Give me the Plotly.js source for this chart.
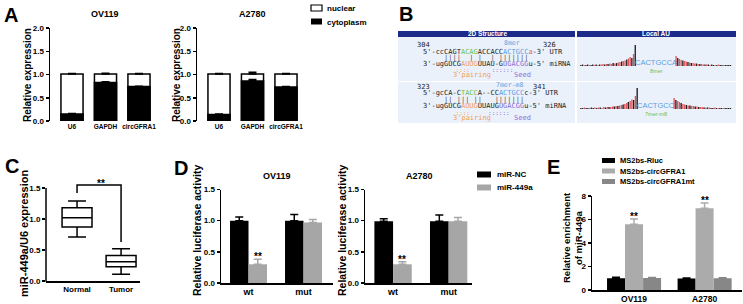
<!DOCTYPE html>
<html><head><meta charset="utf-8">
<script src="https://cdn.plot.ly/plotly-3.0.1.min.js"></script>
<style>html,body{margin:0;padding:0;background:#fff}#chart{width:743px;height:304px}</style>
</head><body><div id="chart"></div>
<script>
// ---------------- DATA ----------------
// Panel A: subcellular fractionation
const aCategories = ['U6', 'GAPDH', 'circGFRA1'];
const aOV119Cytoplasm = [0.15, 0.83, 0.74];
const aOV119Nuclear = [0.86, 0.18, 0.27];
const aOV119CytoplasmErr = [0.01, 0.015, 0.01];
const aOV119TotalErr = [0.01, 0.015, 0.01];
const aA2780Cytoplasm = [0.14, 0.86, 0.73];
const aA2780Nuclear = [0.87, 0.15, 0.28];
const aA2780CytoplasmErr = [0.01, 0.035, 0.01];
const aA2780TotalErr = [0.01, 0.04, 0.01];

// Panel B: binding-site text
const bSiteStarts = ['304', '323'];
const bSiteEnds = ['326', '341'];
const bSiteTypes = ['8mer', '7mer-m8'];
const bSiteMotifs = ['CACTGCCA', 'CACTGCC'];
// Local AU score bars (far -> seed on left, seed -> far on right)
const auRow1Left = [1,1.5,1,1,1.5,1,1,1.5,1,1.5,1,1.5,1.5,2,1.5,2,2,2.5,2,3,2.5,3,3.5,4,4.5,5,5.5,6.5,7.5,9,8,12,21];
const auRow1Right = [10,8,7,6,5.5,5,4.5,4,3.5,3,3,2.5,2.5,2,2,2,1.5,1.5,1.5,1.5,1,1.5,1,1,1,1.5,1,1,1,1,1,1,1];
const auRow2Left = [1,1,1.5,1,1,1,1.5,1,1.5,1,1.5,1.5,1,2,1.5,2,2,2,2.5,2.5,3,3,3.5,4,4.5,5,6,7,8,9.5,9,13,21];
const auRow2Right = [11,9,8,7,6,5,4.5,4,3.5,3.5,3,3,2.5,2.5,2,2,2,1.5,1.5,1.5,1.5,1,1,1.5,1,1,1,1,1,1,1,1,1];

// Panel C: box plot statistics
const cGroups = ['Normal', 'Tumor'];
const cLowerFence = [0.71, 0.11];
const cQ1 = [0.87, 0.23];
const cMedian = [1.02, 0.31];
const cQ3 = [1.18, 0.41];
const cUpperFence = [1.29, 0.52];
const cBracketX = ['Normal', 'Normal', 'Tumor', 'Tumor'];
const cBracketY = [1.42, 1.55, 1.55, 0.63];

// Panel D: luciferase
const dCategories = ['wt', 'mut'];
const dOV119NC = [1.0, 1.0];
const dOV119NCErr = [0.06, 0.1];
const dOV119Mir = [0.30, 0.97];
const dOV119MirErr = [0.08, 0.05];
const dA2780NC = [0.99, 0.99];
const dA2780NCErr = [0.04, 0.1];
const dA2780Mir = [0.30, 0.99];
const dA2780MirErr = [0.04, 0.06];

// Panel E: MS2 pull-down
const eCategories = ['OV119', 'A2780'];
const eRluc = [1.0, 0.98];
const eRlucErr = [0.08, 0.04];
const eCirc = [5.6, 6.95];
const eCircErr = [0.45, 0.45];
const eCircMt = [1.02, 1.0];
const eCircMtErr = [0.05, 0.05];

// ---------------- HELPERS ----------------
const W = 743, H = 304;
const px = v => v / W;
const py = v => 1 - v / H;
const FONT = 'Liberation Sans, Arial, sans-serif';
const MONO = 'DejaVu Sans Mono, Liberation Mono, monospace';
const GRAY = '#a6a6a6', GRAY_LIGHT = '#ababab', GRAY_DARK = '#878787';
const NAVY = '#1c2a8a', CELL = '#ebf1fb';
const C_GREEN = '#6cc04a', C_BLUE = '#5b9be0', C_ORANGE = '#f0a050', C_PURPLE = '#8a6fd6', C_RED = '#e0585f';

function fnt(size, color, bold) {
  return {family: FONT, size: size, color: color || '#000', weight: bold === false ? 'normal' : 'bold'};
}
function xAxis(l, r, range, size, showline, anchor) {
  return {domain: [px(l), px(r)], range: range, type: 'category', anchor: anchor, showline: showline,
    linecolor: '#000', linewidth: 1.5, ticks: '', showgrid: false, zeroline: false, fixedrange: true,
    tickfont: fnt(size)};
}
function yAxis(bot, top, range, tickvals, fmt, anchor, showline) {
  return {domain: [py(bot), py(top)], range: range, anchor: anchor, showline: showline !== false,
    linecolor: '#000', linewidth: 1.5, ticks: 'outside', ticklen: 3, tickwidth: 1.5, tickcolor: '#000',
    tickvals: tickvals, tickformat: fmt, showgrid: false, zeroline: false, fixedrange: true, tickfont: fnt(8)};
}
function errUp(arr, color, w) {
  return {type: 'data', symmetric: false, array: arr, arrayminus: arr.map(() => 0), color: color, thickness: 1.5, width: w};
}
function hidden(domain, range, anchor) {
  return {domain: domain, range: range, visible: false, fixedrange: true, anchor: anchor};
}
const nb = s => s.replace(/ /g, '\u00a0');
const col = (c, s) => `<span style="color:${c}">${s}</span>`;

// ---------------- TRACES ----------------
const traces = [];

function stackedPanel(cyto, nuc, cytoErr, totErr, xa, ya) {
  const total = cyto.map((c, i) => c + nuc[i]);
  traces.push({type: 'bar', x: aCategories, y: total, xaxis: xa, yaxis: ya, offset: -0.33, width: 0.66,
    marker: {color: '#fff', line: {color: '#000', width: 1.5}}, error_y: errUp(totErr, '#000', 4)});
  traces.push({type: 'bar', x: aCategories, y: cyto, xaxis: xa, yaxis: ya, offset: -0.33, width: 0.66,
    marker: {color: '#000', line: {color: '#000', width: 1.5}}, error_y: errUp(cytoErr, '#000', 4)});
}
stackedPanel(aOV119Cytoplasm, aOV119Nuclear, aOV119CytoplasmErr, aOV119TotalErr, 'x', 'y');
stackedPanel(aA2780Cytoplasm, aA2780Nuclear, aA2780CytoplasmErr, aA2780TotalErr, 'x2', 'y2');

// C
traces.push({type: 'box', x: cGroups, q1: cQ1, median: cMedian, q3: cQ3, lowerfence: cLowerFence,
  upperfence: cUpperFence, xaxis: 'x3', yaxis: 'y3', width: 0.68, whiskerwidth: 0.6, fillcolor: '#fff',
  line: {color: '#000', width: 1.5}, boxpoints: false});
traces.push({type: 'scatter', mode: 'lines', x: cBracketX, y: cBracketY, xaxis: 'x3', yaxis: 'y3',
  line: {color: '#000', width: 1.5}, cliponaxis: false});

// D
function lucPanel(nc, ncErr, mir, mirErr, xa, ya) {
  traces.push({type: 'bar', x: dCategories, y: nc, xaxis: xa, yaxis: ya, offset: -0.336, width: 0.336,
    marker: {color: '#000'}, error_y: errUp(ncErr, '#000', 4)});
  traces.push({type: 'bar', x: dCategories, y: mir, xaxis: xa, yaxis: ya, offset: 0, width: 0.336,
    marker: {color: GRAY}, error_y: errUp(mirErr, GRAY, 4)});
}
lucPanel(dOV119NC, dOV119NCErr, dOV119Mir, dOV119MirErr, 'x4', 'y4');
lucPanel(dA2780NC, dA2780NCErr, dA2780Mir, dA2780MirErr, 'x5', 'y5');

// E
[[eRluc, eRlucErr, '#000', -0.383], [eCirc, eCircErr, GRAY_LIGHT, -0.128], [eCircMt, eCircMtErr, GRAY_DARK, 0.128]]
  .forEach(s => traces.push({type: 'bar', x: eCategories, y: s[0], xaxis: 'x6', yaxis: 'y6', offset: s[3], width: 0.255,
    marker: {color: s[2]}, error_y: errUp(s[1], s[2], 4)}));

// B sparklines
const patL = 'kkrkkrkkrkrkrrkrkrrkrkrrkrrkrrkrk';
const patR = 'rkrrkrrkrkrrkrkrrkrkrkkrkrkkrkkkk';
function spark(left, right, rightStart, xa, ya) {
  const xs = left.map((_, i) => i).concat(right.map((_, i) => i + rightStart));
  const ys = left.concat(right);
  const cols = left.map((_, i) => patL[i % patL.length] === 'k' ? '#222' : C_RED)
    .concat(right.map((_, i) => patR[i % patR.length] === 'k' ? '#222' : C_RED));
  traces.push({type: 'bar', x: xs, y: ys, xaxis: xa, yaxis: ya, width: 0.8, marker: {color: cols}});
}
spark(auRow1Left, auRow1Right, 56, 'x7', 'y7');
spark(auRow2Left, auRow2Right, 53, 'x8', 'y8');

// ---------------- LAYOUT ----------------
const shapes = [];
const annotations = [];
function rect(x0, y0, x1, y1, fill, lineColor, lw) {
  shapes.push({type: 'rect', xref: 'paper', yref: 'paper', x0: px(x0), x1: px(x1), y0: py(y1), y1: py(y0),
    fillcolor: fill, line: {color: lineColor || fill, width: lw || 0}, layer: 'below'});
}
function ann(text, x, y, font, opts) {
  annotations.push(Object.assign({text: text, x: px(x), y: py(y), xref: 'paper', yref: 'paper', showarrow: false,
    font: font, xanchor: 'center', yanchor: 'middle'}, opts || {}));
}

// Panel letters
ann('A', 10.5, 15, fnt(20));
ann('B', 405.5, 14, fnt(20));
ann('C', 11.5, 166, fnt(20));
ann('D', 180.5, 167.5, fnt(20));
ann('E', 553.5, 166.5, fnt(20));

// Titles
ann('OV119', 105, 14, fnt(9));
ann('A2780', 252, 14, fnt(9));
ann('OV119', 277, 175.5, fnt(9));
ann('A2780', 419, 175.5, fnt(9));

// Y titles
ann('Relative expression', 27, 75, fnt(10), {textangle: -90});
ann('Relative expression', 176, 75, fnt(10), {textangle: -90});
ann('miR-449a/U6 expression', 24, 234, fnt(11), {textangle: -90});
ann('Relative luciferase activity', 197, 231, fnt(10.5), {textangle: -90});
ann('Relative luciferase activity', 342, 231, fnt(10.5), {textangle: -90});
ann('Relative enrichment', 566, 238, fnt(9.5), {textangle: -90});
ann('of miR-449a', 578, 238, fnt(9.5), {textangle: -90});

// Legends
rect(311, 5, 322, 11, '#fff', '#000', 1.2);
rect(311, 18.5, 322, 24.5, '#000');
ann('nuclear', 325, 8.5, fnt(8), {xanchor: 'left'});
ann('cytoplasm', 325, 22, fnt(8), {xanchor: 'left'});
rect(477, 171.5, 491, 177.5, '#000');
rect(477, 184.5, 491, 190.5, GRAY);
ann('miR-NC', 495, 174.5, fnt(8), {xanchor: 'left'});
ann('miR-449a', 495, 187.5, fnt(8), {xanchor: 'left'});
rect(602, 158, 615, 163, '#000');
rect(602, 168.5, 615, 173.5, GRAY_LIGHT);
rect(602, 179, 615, 184, GRAY_DARK);
ann('MS2bs-Rluc', 618, 160.5, fnt(7.5), {xanchor: 'left'});
ann('MS2bs-circGFRA1', 618, 171, fnt(7.5), {xanchor: 'left'});
ann('MS2bs-circGFRA1mt', 618, 181.5, fnt(7.5), {xanchor: 'left'});

// C axis line (stops at 1.5) and significance
shapes.push({type: 'line', xref: 'x3 domain', yref: 'paper', x0: 0, x1: 0, y0: py(281.75), y1: py(188),
  line: {color: '#000', width: 1.5}});
ann('**', 101, 183, fnt(10));

// D and E significance marks
function star(xa, ya, xIdx, yVal) {
  annotations.push({text: '**', xref: xa, yref: ya, x: xIdx, y: yVal, showarrow: false, font: fnt(10),
    xanchor: 'center', yanchor: 'bottom', yshift: -5});
}
star('x4', 'y4', 0.168, dOV119Mir[0] + dOV119MirErr[0]);
star('x5', 'y5', 0.168, dA2780Mir[0] + dA2780MirErr[0]);
star('x6', 'y6', 0, eCirc[0] + eCircErr[0]);
star('x6', 'y6', 1, eCirc[1] + eCircErr[1]);

// Panel B table
rect(398, 31, 575, 37, NAVY);
rect(577, 31, 736, 37, NAVY);
rect(398, 37, 575, 81, CELL);
rect(577, 37, 736, 81, CELL);
rect(398, 82, 575, 123, CELL);
rect(577, 82, 736, 123, CELL);
ann('2D Structure', 487, 34, fnt(6.5, '#fff'), {borderpad: 0});
ann('Local AU', 656, 34, fnt(6.5, '#fff'), {borderpad: 0});

const mono = (size, color) => ({family: MONO, size: size, color: color || '#222'});
const L = {xanchor: 'left', borderpad: 0};
const M = {borderpad: 0};
// row 1
ann(bSiteStarts[0], 416, 45, mono(7), L);
ann(bSiteTypes[0], 512, 43, mono(6.5, C_BLUE), M);
ann(bSiteEnds[0], 542, 45, mono(7), L);
ann("5'-ccCAGT" + col(C_GREEN, 'ACAG') + 'ACCACC' + col(C_BLUE, 'ACTGCC') + col(C_RED, 'a') + "-3'\u00a0UTR", 422, 52, mono(7), L);
ann(nb('     ||||  | |  | |||||||'), 422, 58, mono(7, '#555'), L);
ann("3'-ugGUCG" + col(C_ORANGE, 'AUUG') + 'UUAU-G' + col(C_PURPLE, 'UGACGG') + "u-5'\u00a0miRNA", 422, 64, mono(7), L);
ann(nb('         ') + col(C_ORANGE, '::::') + nb('      ') + col(C_PURPLE, '::::::'), 422, 69.5, mono(6), L);
ann("3'pairing", 452, 75, mono(7, C_ORANGE), L);
ann('Seed', 513, 75, mono(7, C_PURPLE), L);
// row 2
ann(bSiteStarts[1], 416, 87, mono(7), L);
ann(bSiteTypes[1], 509, 85, mono(6.5, C_BLUE), M);
ann(bSiteEnds[1], 532, 87, mono(7), L);
ann("5'-gcCA-C" + col(C_GREEN, 'TACC') + 'A--CC' + col(C_BLUE, 'ACTGCC') + "c-3'\u00a0UTR", 422, 93, mono(7), L);
ann(nb('     || ||| ||   |||||||'), 422, 99.5, mono(7, '#555'), L);
ann("3'-ugGUCG" + col(C_ORANGE, 'AUUG') + 'UUAUG' + col(C_PURPLE, 'UGACGG') + "u-5'\u00a0miRNA", 422, 106.5, mono(7), L);
ann(nb('         ') + col(C_ORANGE, '::::') + nb('     ') + col(C_PURPLE, '::::::'), 422, 112.5, mono(6), L);
ann("3'pairing", 452, 118, mono(7, C_ORANGE), L);
ann('Seed', 513, 118, mono(7, C_PURPLE), L);
// local AU labels
ann(bSiteMotifs[0], 656, 62, {family: FONT, size: 7.5, color: C_BLUE}, M);
ann(bSiteTypes[0], 656, 71, {family: FONT, size: 5.5, color: C_GREEN}, M);
ann(bSiteMotifs[1], 656, 105, {family: FONT, size: 7.5, color: C_BLUE}, M);
ann(bSiteTypes[1], 656, 114, {family: FONT, size: 5.5, color: C_GREEN}, M);

const layout = {
  width: W, height: H, autosize: false, margin: {l: 0, r: 0, t: 0, b: 0},
  paper_bgcolor: '#fff', plot_bgcolor: 'rgba(0,0,0,0)', showlegend: false, barmode: 'overlay', hovermode: false,
  font: {family: FONT, color: '#000'},
  xaxis: xAxis(50, 157.4, [-0.657, 2.55], 6.5, false, 'y'),
  yaxis: yAxis(121, 28, [0, 2], [0, 0.5, 1, 1.5, 2], '.1f', 'x'),
  xaxis2: xAxis(197, 304.4, [-0.657, 2.55], 6.5, false, 'y2'),
  yaxis2: yAxis(121, 28, [0, 2], [0, 0.5, 1, 1.5, 2], '.1f', 'x2'),
  xaxis3: xAxis(46, 140, [-0.705, 1.43], 8, true, 'y3'),
  yaxis3: yAxis(281, 281 - 1.6 * 62, [0, 1.6], [0, 0.5, 1, 1.5], '.1f', 'x3', false),
  xaxis4: xAxis(221, 333, [-0.5, 1.536], 9, true, 'y4'),
  yaxis4: yAxis(283, 189.5, [0, 1.5], [0, 0.5, 1, 1.5], '.1f', 'x4'),
  xaxis5: xAxis(365, 472, [-0.505, 1.42], 9, true, 'y5'),
  yaxis5: yAxis(283, 189.5, [0, 1.5], [0, 0.5, 1, 1.5], '.1f', 'x5'),
  xaxis6: xAxis(592, 742, [-0.596, 1.53], 8.5, true, 'y6'),
  yaxis6: yAxis(290, 196, [0, 8], [0, 2, 4, 6, 8], 'd', 'x6'),
  xaxis7: hidden([px(580), px(732)], [-0.5, 88.9], 'y7'),
  yaxis7: hidden([py(66), py(45)], [0, 21], 'x7'),
  xaxis8: hidden([px(580), px(732)], [-0.5, 85.9], 'y8'),
  yaxis8: hidden([py(109), py(88)], [0, 21], 'x8'),
  shapes: shapes,
  annotations: annotations
};

Plotly.newPlot('chart', traces, layout, {staticPlot: true, displayModeBar: false});
</script>
</body></html>
